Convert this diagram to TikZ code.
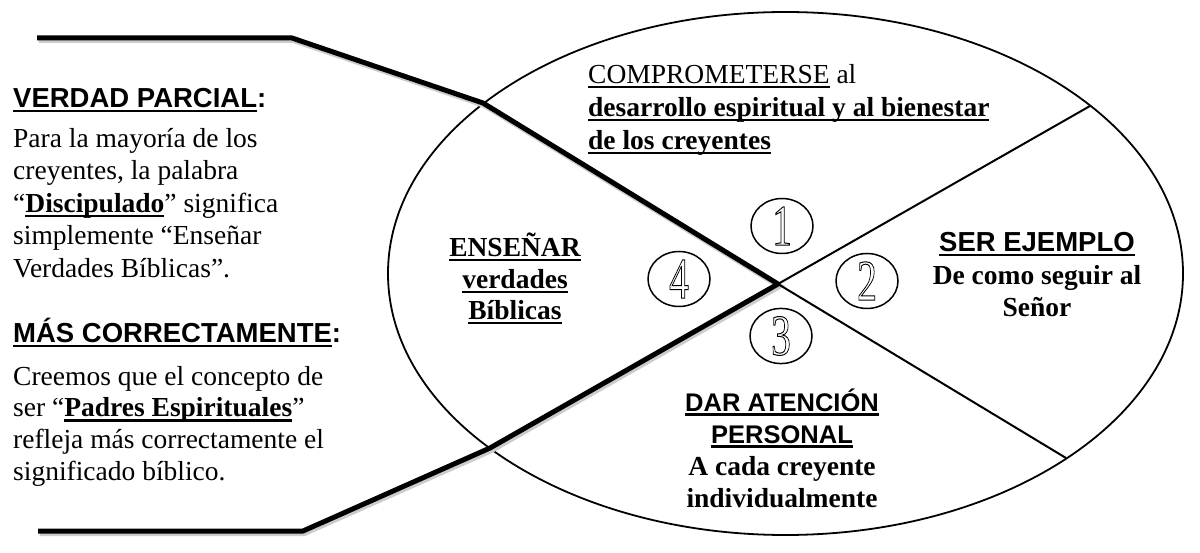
\documentclass[tikz,border=0pt]{standalone}
\usepackage{fontspec}
\usepackage{graphicx}
\setmainfont{Liberation Serif}
\setsansfont{Liberation Sans}
\usetikzlibrary{positioning, shapes.geometric}

\newcommand{\subrayar}[1]{{\setbox0\hbox{#1}\rlap{\rule[-4.5pt]{\wd0}{2.4pt}}\box0}}
\newcommand{\contorno}[1]{\scalebox{0.68}[1]{\special{pdf:literal direct 1 Tr 1 w}#1\special{pdf:literal direct 0 Tr}}}

\tikzset{
  cuerpo/.style  = {inner sep=0pt, font=\fontsize{27.5}{33}\selectfont},
  titulo/.style  = {inner sep=0pt, font=\sffamily\bfseries\fontsize{27.5}{33}\selectfont},
  negrita/.style = {inner sep=0pt, font=\bfseries\fontsize{27.5}{33}\selectfont},
  circulo/.style = {draw, ellipse, line width=1.5pt, minimum width=62pt, minimum height=55pt,
                    inner sep=0pt, font=\fontsize{58}{58}\selectfont},
  grueso/.style  = {line width=5pt, line join=round,
                    preaction={draw=black!20, line width=6pt, transform canvas={shift={(1.5pt,-2pt)}}}},
  fino/.style    = {line width=2pt}
}

\begin{document}
\begin{tikzpicture}[x=1pt, y=-1pt]
   \useasboundingbox (0,0) rectangle (1200,553);

   % circulo grande
   \draw[line width=1.8pt] (785.5,273.5) ellipse [x radius=397.5, y radius=261.5];

   \coordinate (centro) at (778,284);
   \coordinate (arribaE) at (483,103);
   \coordinate (arribaC) at (292,38);
   \coordinate (arribaF) at (37,38);
   \coordinate (abajoE) at (490,448);
   \coordinate (abajoC) at (303,531);
   \coordinate (abajoF) at (38,531);
   \coordinate (derA) at (1090,106);
   \coordinate (derB) at (1066,458);

   \draw[grueso] (arribaF) -- (arribaC) -- (arribaE) -- (centro) -- (abajoE) -- (abajoC) -- (abajoF);
   \draw[fino] (centro) -- (derA);
   \draw[fino] (centro) -- (derB);

   % numeros
   \node[circulo] (n1) at (782,226) {\contorno{1}};
   \node[circulo] (n2) at (867,281) {\contorno{2}};
   \node[circulo] (n3) at (781,336) {\contorno{3}};
   \node[circulo] (n4) at (679,279) {\contorno{4}};

   % texto izquierda
   \node[titulo, anchor=base west] (parcial) at (13,108) {\subrayar{VERDAD PARCIAL}:};
   \foreach \txt [count=\i] in {Para la mayoría de los, {creyentes, la palabra},
         {“\subrayar{\textbf{Discipulado}}” significa}, simplemente “Enseñar, Verdades Bíblicas”.}
      \node[cuerpo, anchor=base west] (parcial\i) at (13,{115+32.5*\i}) {\txt};

   \node[titulo, anchor=base west] (correcto) at (13,343) {\subrayar{MÁS CORRECTAMENTE}:};
   \foreach \txt [count=\i] in {Creemos que el concepto de, {ser “\subrayar{\textbf{Padres Espirituales}}”},
         refleja más correctamente el, significado bíblico.}
      \node[cuerpo, anchor=base west] (correcto\i) at (13,{354+31.5*\i}) {\txt};

   % sectores
   \node[cuerpo, anchor=base west] (s1a) at (588,84) {\subrayar{COMPROMETERSE} al};
   \node[negrita, anchor=base west] (s1b) at (588,117) {\subrayar{desarrollo espiritual y al bienestar}};
   \node[negrita, anchor=base west] (s1c) at (588,150) {\subrayar{de los creyentes}};

   \node[titulo, anchor=base] (s2a) at (1037,252) {\subrayar{SER EJEMPLO}};
   \node[negrita, anchor=base] (s2b) at (1037,284.5) {De como seguir al};
   \node[negrita, anchor=base] (s2c) at (1037,317) {Señor};

   \node[titulo, anchor=base, font=\sffamily\bfseries\fontsize{25.5}{30}\selectfont] (s3a) at (782,411) {\subrayar{DAR ATENCIÓN}};
   \node[titulo, anchor=base, font=\sffamily\bfseries\fontsize{25.5}{30}\selectfont] (s3b) at (782,443) {\subrayar{PERSONAL}};
   \node[negrita, anchor=base] (s3c) at (782,475) {A cada creyente};
   \node[negrita, anchor=base] (s3d) at (782,507) {individualmente};

   \node[negrita, anchor=base] (s4a) at (515,257) {\subrayar{ENSEÑAR}};
   \node[negrita, anchor=base] (s4b) at (515,288.5) {\subrayar{verdades}};
   \node[negrita, anchor=base] (s4c) at (515,320) {\subrayar{Bíblicas}};

\end{tikzpicture}
\end{document}
